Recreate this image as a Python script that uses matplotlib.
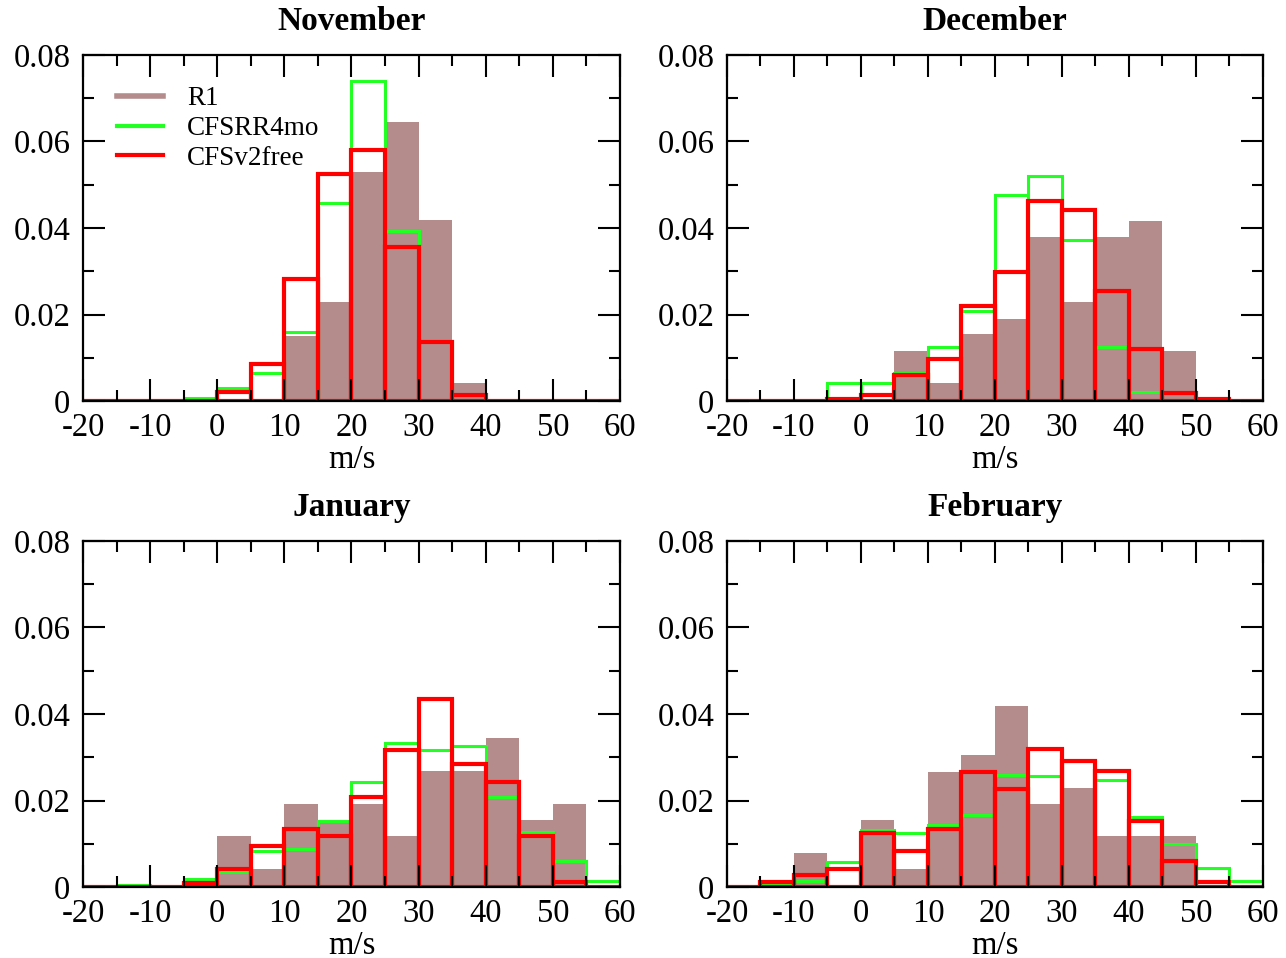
import matplotlib
matplotlib.use("Agg")
import matplotlib.pyplot as plt
from matplotlib.lines import Line2D

plt.rcParams['font.family'] = ['Liberation Serif', 'DejaVu Serif']
plt.rcParams['axes.unicode_minus'] = False

# bin left edges (m/s), width 5
edges = [-20, -15, -10, -5, 0, 5, 10, 15, 20, 25, 30, 35, 40, 45, 50, 55]
months = ["November", "December", "January", "February"]

# R1 (filled)
r1 = {
    "November": [0, 0, 0, 0, 0, 0, 0.0150, 0.0228, 0.0530, 0.0644, 0.0418, 0.0041, 0, 0, 0, 0],
    "December": [0, 0, 0, 0, 0, 0.0115, 0.0041, 0.0154, 0.0190, 0.0380, 0.0230, 0.0380, 0.0417, 0.0115, 0, 0],
    "January":  [0, 0, 0, 0, 0.0117, 0.0042, 0.0192, 0.0155, 0.0192, 0.0117, 0.0268, 0.0268, 0.0344, 0.0155, 0.0192, 0],
    "February": [0, 0, 0.0078, 0, 0.0155, 0.0042, 0.0267, 0.0305, 0.0419, 0.0192, 0.0230, 0.0117, 0.0117, 0.0117, 0, 0],
}
# CFSRR4mo (green outline)
cfsrr = {
    "November": [0, 0, 0, 0.0008, 0.0030, 0.0064, 0.0160, 0.0458, 0.0740, 0.0394, 0.0138, 0.0003, 0, 0, 0, 0],
    "December": [0, 0, 0, 0.0042, 0.0042, 0.0064, 0.0125, 0.0208, 0.0477, 0.0520, 0.0373, 0.0125, 0.0020, 0.0002, 0, 0],
    "January":  [0, 0.0005, 0, 0.0018, 0.0035, 0.0084, 0.0088, 0.0152, 0.0242, 0.0334, 0.0316, 0.0325, 0.0207, 0.0128, 0.0059, 0.0013],
    "February": [0, 0.0005, 0.0013, 0.0058, 0.0132, 0.0126, 0.0144, 0.0167, 0.0259, 0.0256, 0.0292, 0.0248, 0.0163, 0.0099, 0.0044, 0.0013],
}
# CFSv2free (red outline)
cfsv2 = {
    "November": [0, 0, 0, 0, 0.0022, 0.0085, 0.0282, 0.0525, 0.0580, 0.0355, 0.0136, 0.0015, 0, 0, 0, 0],
    "December": [0, 0, 0, 0.0005, 0.0015, 0.0060, 0.0098, 0.0220, 0.0298, 0.0463, 0.0442, 0.0255, 0.0120, 0.0019, 0.0004, 0],
    "January":  [0, 0, 0, 0.0009, 0.0042, 0.0094, 0.0134, 0.0117, 0.0209, 0.0317, 0.0434, 0.0284, 0.0242, 0.0117, 0.0011, 0],
    "February": [0, 0.0011, 0.0027, 0.0042, 0.0126, 0.0084, 0.0134, 0.0267, 0.0226, 0.0318, 0.0292, 0.0268, 0.0152, 0.0059, 0.0011, 0],
}

xticks = [-20, -10, 0, 10, 20, 30, 40, 50, 60]
yticks = [0, 0.02, 0.04, 0.06, 0.08]
ylabels = ["0", "0.02", "0.04", "0.06", "0.08"]

r1_col = '#b48c8c'
green = '#22ff22'
red = '#ff0000'

fig = plt.figure(figsize=(12.86, 9.58), dpi=100)
pos = [
    [0.0645, 0.5814, 0.4176, 0.3612],
    [0.5653, 0.5814, 0.4168, 0.3612],
    [0.0645, 0.0741, 0.4176, 0.3612],
    [0.5653, 0.0741, 0.4168, 0.3612],
]

for i, m in enumerate(months):
    ax = fig.add_axes(pos[i])
    ax.bar(edges, r1[m], width=5, align='edge', color=r1_col, linewidth=0, zorder=1)
    ax.bar(edges, cfsrr[m], width=5, align='edge', fill=False, edgecolor=green, linewidth=2.2, zorder=2)
    ax.bar(edges, cfsv2[m], width=5, align='edge', fill=False, edgecolor=red, linewidth=3, zorder=2.1)
    ax.set_axisbelow(False)

    ax.set_xlim(-20, 60)
    ax.set_ylim(0, 0.08)
    ax.set_xticks(xticks)
    ax.set_xticklabels([str(t) for t in xticks])
    ax.set_xticks(range(-15, 60, 10), minor=True)
    ax.set_yticks(yticks)
    ax.set_yticklabels(ylabels)
    ax.set_yticks([0.01, 0.03, 0.05, 0.07], minor=True)
    ax.tick_params(which='both', direction='in', top=True, right=True, width=1.5, labelsize=23.5)
    ax.tick_params(axis='x', which='major', length=16, pad=8)
    ax.tick_params(axis='y', which='major', length=16, pad=9)
    ax.tick_params(which='minor', length=8)
    for s in ax.spines.values():
        s.set_linewidth(1.6)
        s.set_zorder(3)

    ax.set_title(m, fontsize=24, fontweight='bold', pad=18)
    ax.set_xlabel("m/s", fontsize=23.5, labelpad=1)

    if i == 0:
        handles = [Line2D([], [], color=r1_col, lw=4),
                   Line2D([], [], color=green, lw=3),
                   Line2D([], [], color=red, lw=3)]
        ax.legend(handles, ["R1", "CFSRR4mo", "CFSv2free"], loc='upper left',
                  frameon=False, fontsize=19.5, handlelength=1.7, handletextpad=0.9,
                  labelspacing=0.18, borderpad=0, borderaxespad=0,
                  bbox_to_anchor=(0.063, 0.91))

fig.savefig("out.png", dpi=100)
